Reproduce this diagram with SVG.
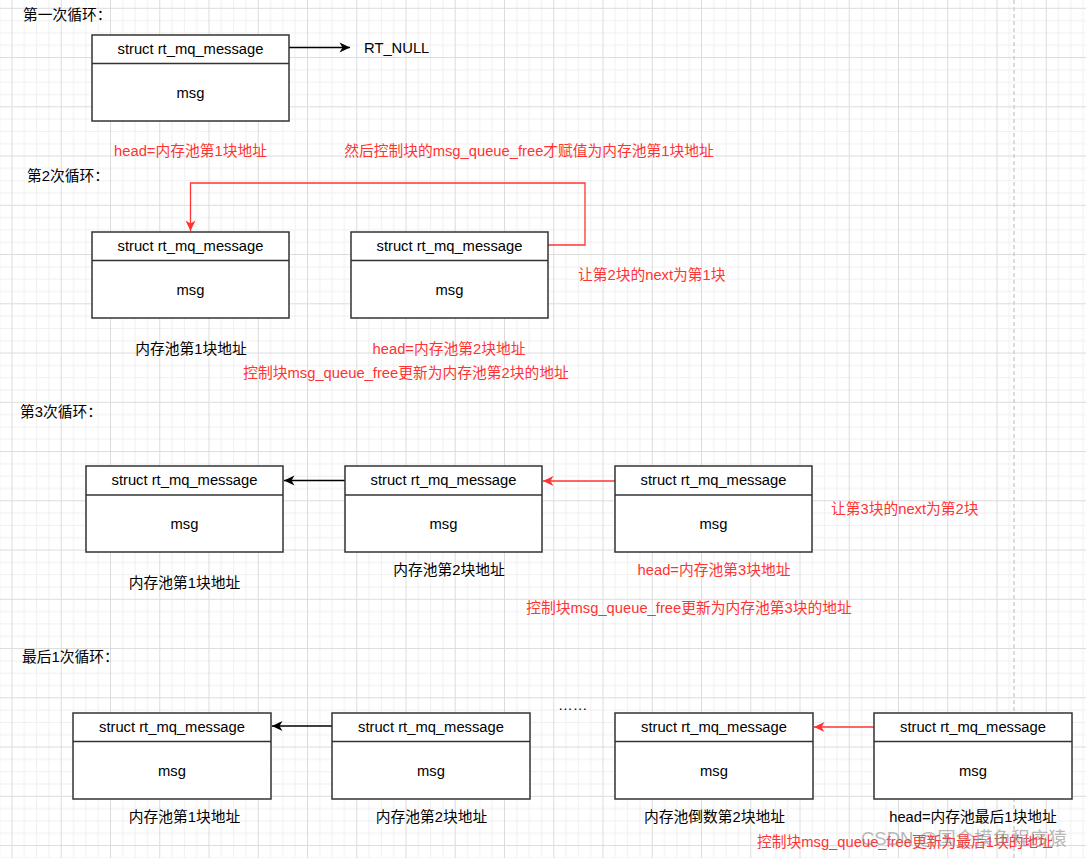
<svg xmlns="http://www.w3.org/2000/svg" width="1086" height="858" viewBox="0 0 1086 858">
<style>
text{font-family:"Liberation Sans","Noto Sans CJK SC",sans-serif;font-size:14.76px;fill:#000}
.r{fill:#FF3333}
.c{text-anchor:middle}
.box rect,.box line{fill:#fff;stroke:#333;stroke-width:1.5}
.ek{fill:none;stroke:#000;stroke-width:1.3}
.er{fill:none;stroke:#FF3333;stroke-width:1.3}
.wm{font-size:18.5px;fill:#8a8a8a;fill-opacity:0.6}
</style>
<defs>
<pattern id="grid" x="11.5" y="7.8" width="49.25" height="49.25" patternUnits="userSpaceOnUse">
<path d="M12.81 0V49.25M25.12 0V49.25M37.44 0V49.25M0 12.81H49.25M0 25.12H49.25M0 37.44H49.25" stroke="#f0f0f0" stroke-width="1" fill="none"/>
<path d="M0.5 0V49.25M0 0.5H49.25" stroke="#dcdcdc" stroke-width="1" fill="none"/>
</pattern>
<marker id="ab" markerUnits="userSpaceOnUse" markerWidth="12" markerHeight="12" viewBox="0 0 12 12" refX="11" refY="6" orient="auto"><path d="M0.5,1 L11,6 L0.5,11 L3.5,6 Z" fill="#000"/></marker>
<marker id="ar" markerUnits="userSpaceOnUse" markerWidth="12" markerHeight="12" viewBox="0 0 12 12" refX="11" refY="6" orient="auto"><path d="M0.5,1 L11,6 L0.5,11 L3.5,6 Z" fill="#FF3333"/></marker>
</defs>
<rect x="0" y="0" width="1086" height="858" fill="#fff"/>
<rect x="0" y="0" width="1086" height="858" fill="url(#grid)"/>
<line x1="1014" y1="0" x2="1014" y2="858" stroke="#cfcfcf" stroke-width="1.5" stroke-dasharray="4 3"/>

<g id="connectors">
<path class="ek" d="M289,47.5 H350" marker-end="url(#ab)"/>
<path class="er" d="M548,245 H585 V183 H190.5 V231" marker-end="url(#ar)"/>
<path class="ek" d="M345,480.5 H284" marker-end="url(#ab)"/>
<path class="er" d="M615,481 H543" marker-end="url(#ar)"/>
<path class="ek" d="M332,726 H272" marker-end="url(#ab)"/>
<path class="er" d="M874,727 H814" marker-end="url(#ar)"/>
</g>

<g id="loop1">
<text x="23" y="20">第一次循环：</text>
<g id="r1b1" class="box"><rect x="92" y="35" width="197" height="86"/><line x1="92" y1="63.5" x2="289" y2="63.5"/><text class="c" x="190.5" y="54">struct rt_mq_message</text><text class="c" x="190.5" y="97.5">msg</text></g>
<text id="rtnull" x="364" y="52.5">RT_NULL</text>
<text class="r c" x="190.5" y="156">head=内存池第1块地址</text>
<text class="r c" x="529" y="156">然后控制块的msg_queue_free才赋值为内存池第1块地址</text>
</g>

<g id="loop2">
<text x="27" y="181">第2次循环：</text>
<g id="r2b1" class="box"><rect x="92" y="232" width="197" height="86"/><line x1="92" y1="260.5" x2="289" y2="260.5"/><text class="c" x="190.5" y="251">struct rt_mq_message</text><text class="c" x="190.5" y="294.5">msg</text></g>
<g id="r2b2" class="box"><rect x="351" y="232" width="197" height="86"/><line x1="351" y1="260.5" x2="548" y2="260.5"/><text class="c" x="449.5" y="251">struct rt_mq_message</text><text class="c" x="449.5" y="294.5">msg</text></g>
<text class="r" x="578" y="280">让第2块的next为第1块</text>
<text class="c" x="191" y="354">内存池第1块地址</text>
<text class="r c" x="449" y="354">head=内存池第2块地址</text>
<text class="r c" x="406" y="378">控制块msg_queue_free更新为内存池第2块的地址</text>
</g>

<g id="loop3">
<text x="20" y="416.5">第3次循环：</text>
<g id="r3b1" class="box"><rect x="86" y="466" width="197" height="86"/><line x1="86" y1="495" x2="283" y2="495"/><text class="c" x="184.5" y="485">struct rt_mq_message</text><text class="c" x="184.5" y="528.5">msg</text></g>
<g id="r3b2" class="box"><rect x="345" y="466" width="197" height="86"/><line x1="345" y1="495" x2="542" y2="495"/><text class="c" x="443.5" y="485">struct rt_mq_message</text><text class="c" x="443.5" y="528.5">msg</text></g>
<g id="r3b3" class="box"><rect x="615" y="466" width="197" height="86"/><line x1="615" y1="495" x2="812" y2="495"/><text class="c" x="713.5" y="485">struct rt_mq_message</text><text class="c" x="713.5" y="528.5">msg</text></g>
<text class="r" x="831" y="514">让第3块的next为第2块</text>
<text class="c" x="184.5" y="588">内存池第1块地址</text>
<text class="c" x="449" y="575">内存池第2块地址</text>
<text class="r c" x="714" y="575">head=内存池第3块地址</text>
<text class="r c" x="689" y="613">控制块msg_queue_free更新为内存池第3块的地址</text>
</g>

<g id="loop4">
<text x="22" y="662">最后1次循环：</text>
<g id="r4b1" class="box"><rect x="73" y="713" width="198" height="86"/><line x1="73" y1="741.5" x2="271" y2="741.5"/><text class="c" x="172" y="732">struct rt_mq_message</text><text class="c" x="172" y="775.5">msg</text></g>
<g id="r4b2" class="box"><rect x="332" y="713" width="198" height="86"/><line x1="332" y1="741.5" x2="530" y2="741.5"/><text class="c" x="431" y="732">struct rt_mq_message</text><text class="c" x="431" y="775.5">msg</text></g>
<text x="558" y="710">……</text>
<g id="r4b3" class="box"><rect x="615" y="713" width="198" height="86"/><line x1="615" y1="741.5" x2="813" y2="741.5"/><text class="c" x="714" y="732">struct rt_mq_message</text><text class="c" x="714" y="775.5">msg</text></g>
<g id="r4b4" class="box"><rect x="874" y="713" width="198" height="86"/><line x1="874" y1="741.5" x2="1072" y2="741.5"/><text class="c" x="973" y="732">struct rt_mq_message</text><text class="c" x="973" y="775.5">msg</text></g>
<text class="c" x="184.5" y="822">内存池第1块地址</text>
<text class="c" x="431.5" y="822">内存池第2块地址</text>
<text class="c" x="714.5" y="822">内存池倒数第2块地址</text>
<text class="c" x="973" y="822">head=内存池最后1块地址</text>
<text class="r" x="757" y="847">控制块msg_queue_free更新为最后1块的地址</text>
</g>
<text id="watermark" class="wm" x="861" y="845">CSDN @国企摸鱼程序猿</text>
</svg>
